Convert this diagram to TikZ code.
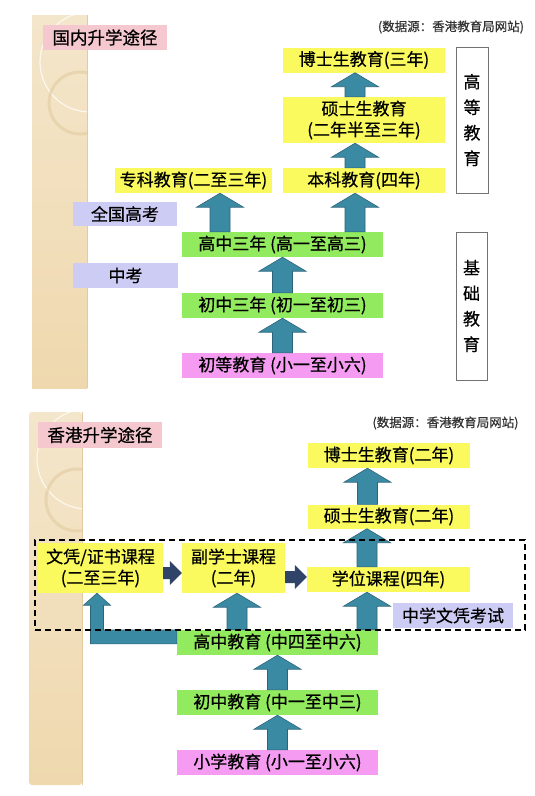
\documentclass[tikz,border=0pt]{standalone}
\usepackage{fontspec}
\setmainfont{Noto Sans CJK SC}[FakeBold=0.6]
\usetikzlibrary{calc}
\definecolor{byellow}{HTML}{FAFA5E}
\definecolor{bgreen}{HTML}{92EA5E}
\definecolor{bmag}{HTML}{F59CF2}
\definecolor{blav}{HTML}{CDCCF4}
\definecolor{bpink}{HTML}{F5C7CF}
\definecolor{tealA}{HTML}{3B8AA3}
\definecolor{tealB}{HTML}{2A6579}
\definecolor{navyA}{HTML}{2F4468}
\definecolor{tanA}{HTML}{F4E6CB}
\definecolor{tanB}{HTML}{EFD8AE}
\definecolor{tanC}{HTML}{E2CBA0}
\newcommand\tealup[2]{%
  \filldraw[tealarrow] let \p1=#1, \p2=#2 in
  (\x1-10pt,\y1) -- (\x1-10pt,\y2-14pt) -- (\x1-23.5pt,\y2-14pt) -- (\x1,\y2)
  -- (\x1+23.5pt,\y2-14pt) -- (\x1+10pt,\y2-14pt) -- (\x1+10pt,\y1) -- cycle;}
\newcommand\navyright[2]{%
  \fill[navyA] let \p1=#1, \p2=#2 in
  (\x1,\y1+6pt) -- (\x2-12pt,\y1+6pt) -- (\x2-12pt,\y1+12pt) -- (\x2,\y1)
  -- (\x2-12pt,\y1-12pt) -- (\x2-12pt,\y1-6pt) -- (\x1,\y1-6pt) -- cycle;}
\begin{document}
\begin{tikzpicture}[x=1pt,y=-1pt,
  box/.style={inner sep=0pt, minimum height=25pt, align=center,
    font=\fontsize{17}{21}\selectfont},
  ybox/.style={box, fill=byellow},
  gbox/.style={box, fill=bgreen},
  mbox/.style={box, fill=bmag},
  lbox/.style={box, fill=blav},
  tbox/.style={box, fill=bpink, font=\fontsize{17.5}{21}\selectfont},
  srcnote/.style={inner sep=0pt, text=black!80, font=\fontsize{12.5}{14}\selectfont},
  vbox/.style={draw=black!55, line width=0.8pt, inner sep=0pt, align=center,
    font=\fontsize{17}{25.5}\selectfont},
  tealarrow/.style={fill=tealA, draw=tealB, line width=0.6pt},
  dashbox/.style={draw=black, line width=1.4pt, dash pattern=on 6pt off 4pt,
    inner sep=0pt}]
\useasboundingbox (0,0) rectangle (535,796);
\fill[white] (0,0) rectangle (535,796);
% ---- decorative strips ----
\shade[top color=tanA, bottom color=tanB] (32,15) rectangle (87,388);
\begin{scope}
  \clip (32,15) rectangle (87,388);
  \draw[white!70!tanA, line width=1.2pt] (90,62) circle (50);
  \draw[tanC, line width=3pt, opacity=0.6] (80,103) circle (31);
\end{scope}
\draw[tanC, line width=0.6pt] (87,15) -- (87,388);
\shade[top color=tanA, bottom color=tanB, rounded corners=3pt] (29,412) rectangle (82,785);
\begin{scope}
  \clip (29,412) rectangle (82,785);
  \draw[white!70!tanA, line width=1.2pt] (87,459) circle (50);
  \draw[tanC, line width=3pt, opacity=0.6] (77,500) circle (31);
\end{scope}
\draw[tanC, line width=0.6pt] (82,412) -- (82,785);
% ---- top panel ----
\node[tbox, minimum width=124pt] (t1) at (105,37.5) {国内升学途径};
\node[srcnote] (s1) at (451,27) {(数据源：香港教育局网站)};
\node[ybox, minimum width=162pt] (doc1) at (364,60) {博士生教育(三年)};
\node[ybox, minimum width=162pt, minimum height=46pt] (mas1) at (364,120) {硕士生教育\\(二年半至三年)};
\node[ybox, minimum width=162pt] (ben1) at (364,180.5) {本科教育(四年)};
\node[ybox, minimum width=157pt] (zk1) at (193.5,180.5) {专科教育(二至三年)};
\node[lbox, minimum width=104pt, minimum height=24pt] (gk) at (125,214) {全国高考};
\node[gbox, minimum width=201pt] (gz1) at (282.5,244.5) {高中三年 (高一至高三)};
\node[lbox, minimum width=105pt] (zkao) at (125.5,275.5) {中考};
\node[gbox, minimum width=201pt] (cz1) at (282.5,305.5) {初中三年 (初一至初三)};
\node[mbox, minimum width=201pt] (xx1) at (282.5,365.5) {初等教育 (小一至小六)};
\node[vbox, minimum width=32pt, minimum height=146pt] (gd) at (472,120) {高\\等\\教\\育};
\node[vbox, minimum width=31pt, minimum height=148pt] (jc) at (471.5,306) {基\\础\\教\\育};
\tealup{($(gz1.north)+(-62.5,0)$)}{(zk1.south)}
\tealup{($(gz1.north)+(72.5,0)$)}{(ben1.south)}
\tealup{($(ben1.north)+(-9,0)$)}{(mas1.south)}
\tealup{($(mas1.north)+(-9,0)$)}{(doc1.south)}
\tealup{(cz1.north)}{(gz1.south)}
\tealup{(xx1.north)}{(cz1.south)}
% ---- bottom panel ----
\node[tbox, minimum width=124pt, minimum height=26pt] (t2) at (100,435) {香港升学途径};
\node[srcnote] (s2) at (445.5,423) {(数据源：香港教育局网站)};
\node[ybox, minimum width=162pt] (doc2) at (389,455.5) {博士生教育(二年)};
\node[ybox, minimum width=162pt, minimum height=24pt] (mas2) at (389,516.5) {硕士生教育(二年)};
\node[ybox, minimum width=163pt] (xw) at (388.5,579.5) {学位课程(四年)};
\node[ybox, minimum width=125pt, minimum height=50pt] (wp) at (100.5,568) {文凭/证书课程\\(二至三年)};
\node[ybox, minimum width=103pt, minimum height=50pt] (fx) at (233.5,568) {副学士课程\\(二年)};
\node[lbox, minimum width=120pt] (dse) at (453,615.5) {中学文凭考试};
\node[gbox, minimum width=201pt] (gz2) at (277.5,642.5) {高中教育 (中四至中六)};
\node[gbox, minimum width=201pt] (cz2) at (277.5,702.5) {初中教育 (中一至中三)};
\node[mbox, minimum width=201pt] (xx2) at (277.5,762.5) {小学教育 (小一至小六)};
\tealup{($(gz2.north)+(-40.5,0)$)}{(fx.south)}
\tealup{($(gz2.north)+(89.5,0)$)}{(xw.south)}
\tealup{($(xw.north)+(-21.5,0)$)}{(mas2.south)}
\tealup{($(mas2.north)+(-21.5,0)$)}{(doc2.south)}
\tealup{(cz2.north)}{(gz2.south)}
\tealup{(xx2.north)}{(cz2.south)}
\filldraw[tealarrow] let \p1=(gz2.north west), \p2=($(wp.south)+(-3.5,0)$) in
  (\x1,\y1) -- (\x2+6.5pt,\y1) -- (\x2+6.5pt,\y2-12pt) -- (\x2+13.5pt,\y2-12pt)
  -- (\x2,\y2) -- (\x2-13.5pt,\y2-12pt) -- (\x2-6.5pt,\y2-12pt)
  -- (\x2-6.5pt,\y1-14pt) -- (\x1,\y1-14pt) -- cycle;
\navyright{($(wp.east)+(0,5)$)}{(fx.west)}
\navyright{($(fx.east)+(0,9)$)}{(xw.west)}
\node[dashbox, minimum width=490pt, minimum height=90pt] (dash) at (280,585) {};
\end{tikzpicture}
\end{document}
